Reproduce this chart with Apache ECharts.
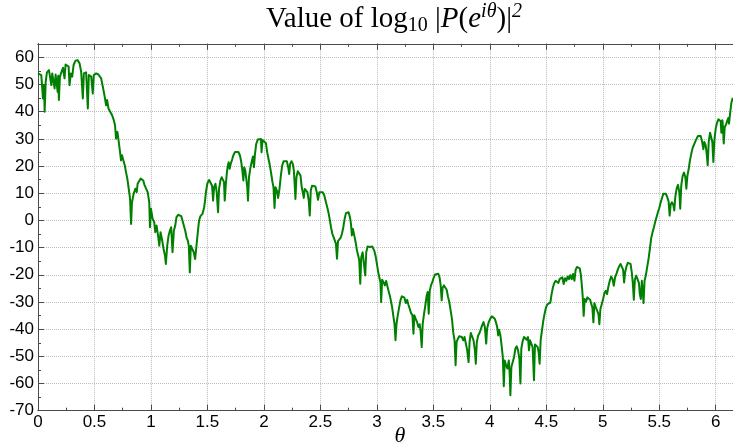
<!DOCTYPE html>
<html><head><meta charset="utf-8">
<script src="https://cdn.jsdelivr.net/npm/echarts@6/dist/echarts.min.js"></script>
<style>html,body{margin:0;padding:0;background:#fff;overflow:hidden;width:733px;height:443px}#c{width:752px;height:443px}</style>
</head><body><div id="c"></div>
<script>
// theta (radians) sample positions
const theta = [
0.000,0.029,0.044,0.053,0.059,0.068,0.079,0.097,0.109,0.118,
0.126,0.138,0.147,0.156,0.168,0.174,0.179,0.185,0.194,0.206,
0.221,0.235,0.244,0.259,0.271,0.279,0.291,0.303,0.315,0.332,
0.350,0.368,0.382,0.397,0.406,0.426,0.441,0.450,0.471,0.485,
0.494,0.515,0.535,0.559,0.574,0.588,0.603,0.612,0.624,0.638,
0.656,0.671,0.682,0.691,0.703,0.715,0.726,0.735,0.744,0.756,
0.768,0.779,0.791,0.803,0.815,0.824,0.832,0.847,0.862,0.874,
0.882,0.897,0.909,0.921,0.932,0.944,0.956,0.971,0.985,0.991,
1.000,1.015,1.029,1.038,1.050,1.065,1.074,1.085,1.097,1.112,
1.124,1.132,1.144,1.156,1.168,1.179,1.191,1.203,1.215,1.226,
1.241,1.256,1.268,1.279,1.291,1.303,1.315,1.326,1.335,1.344,
1.353,1.368,1.379,1.391,1.403,1.415,1.426,1.438,
1.456,1.471,1.479,1.488,1.500,1.515,1.529,1.541,1.550,1.559,
1.571,1.582,1.594,1.603,1.615,1.626,1.638,1.647,1.653,1.662,
1.671,1.679,1.688,1.697,1.706,1.718,1.729,1.744,1.759,1.774,
1.788,1.800,1.809,1.818,1.826,1.835,1.844,1.853,1.859,1.868,
1.879,1.891,1.903,1.912,1.921,1.932,1.947,1.962,1.974,1.979,
1.988,2.003,2.018,2.029,2.041,2.053,2.065,2.076,2.085,2.094,
2.103,2.115,2.126,2.138,2.150,2.162,2.174,2.188,2.203,2.215,
2.224,2.232,2.244,2.256,2.265,2.274,2.279,2.288,2.300,2.312,
2.324,2.335,2.344,2.353,2.362,2.374,2.385,2.397,2.406,2.415,
2.426,2.441,2.456,2.468,2.479,2.491,2.506,2.521,2.535,2.547,
2.559,2.571,2.582,2.594,2.606,2.618,2.629,2.638,2.647,2.656,
2.668,2.679,2.691,2.703,2.715,2.726,2.738,2.750,2.762,2.771,
2.779,2.788,2.800,2.812,2.824,2.835,2.844,2.853,2.862,2.874,
2.885,2.897,2.906,2.918,2.929,
2.941,2.959,2.976,2.988,3.000,3.012,3.024,3.032,3.038,3.047,
3.059,3.071,3.082,3.094,3.106,3.118,3.126,3.135,3.147,3.156,
3.165,3.174,3.185,3.197,3.209,3.221,3.232,3.244,3.256,3.268,
3.279,3.291,3.303,3.315,3.324,3.332,3.344,3.356,3.368,3.379,
3.388,3.397,3.406,3.418,3.429,3.441,3.450,3.459,3.468,3.479,
3.491,3.503,3.515,3.529,3.544,3.556,3.565,3.574,3.582,3.594,
3.606,3.618,3.629,3.641,3.653,3.665,3.676,3.688,3.697,3.706,
3.718,3.729,3.741,3.753,3.765,3.776,3.788,3.800,3.812,3.821,
3.832,3.844,3.856,3.868,3.876,3.885,3.897,3.909,3.921,3.932,
3.944,3.956,3.968,3.976,3.988,4.003,4.018,4.032,4.044,4.056,
4.065,4.074,4.082,4.094,4.106,4.115,4.124,4.132,4.144,4.156,
4.168,4.176,4.182,4.191,4.203,4.215,4.226,4.238,4.250,4.262,
4.271,4.279,4.291,4.303,4.315,4.326,4.338,4.347,4.356,4.368,
4.379,4.391,4.400,4.412,4.424,4.432,4.441,4.450,4.462,4.474,
4.485,4.497,4.509,4.521,
4.536,4.547,4.559,4.571,4.583,4.595,4.607,4.618,4.630,4.642,
4.654,4.666,4.678,4.689,4.701,4.713,4.725,4.737,4.749,4.760,
4.772,4.784,4.796,4.805,4.814,4.822,4.831,4.840,4.852,4.864,
4.876,4.888,4.899,4.908,4.917,4.926,4.938,4.950,4.962,4.970,
4.979,4.991,5.003,5.015,5.027,5.038,5.050,5.062,5.074,5.086,
5.098,5.109,5.121,5.133,5.145,5.157,5.169,5.180,5.189,5.198,
5.210,5.222,5.234,5.246,5.257,5.266,5.275,5.284,5.296,5.308,
5.320,5.328,5.337,5.346,5.355,5.361,5.370,5.382,5.393,5.405,
5.417,5.429,5.441,5.453,5.464,5.476,5.488,5.500,5.512,5.524,
5.536,5.547,5.559,5.571,5.583,5.592,5.601,5.612,5.624,5.633,
5.642,5.654,5.666,5.678,5.686,5.695,5.707,5.719,5.731,5.740,
5.749,5.760,5.772,5.784,5.796,5.808,5.820,5.831,5.843,5.855,
5.867,5.879,5.891,5.899,5.911,5.920,5.929,5.938,5.950,5.962,
5.970,5.979,5.988,6.000,6.012,6.024,6.036,6.044,6.050,6.059,
6.065,6.071,6.080,6.092,6.104,6.112,6.118,6.127,6.139,6.151
];

// log10 |P(e^{i theta})|^2 values
const logP = [
54.1,53.5,44.9,49.8,40.0,51.0,54.5,55.3,54.7,49.8,
54.1,54.1,48.6,53.7,53.5,47.3,53.2,44.3,52.9,52.9,
56.2,52.3,57.4,57.8,56.6,49.8,54.1,52.9,57.2,58.8,
59.0,57.8,54.7,44.9,54.1,54.5,41.2,53.5,52.9,46.7,
53.5,54.1,53.7,52.3,49.2,46.1,42.4,44.3,41.2,40.6,
38.7,36.9,35.0,30.1,32.6,28.9,25.2,22.1,24.0,22.1,
20.3,17.8,15.4,11.7,8.0,-1.3,6.7,9.8,11.7,10.4,
13.5,14.1,15.4,15.6,14.7,12.9,12.3,10.4,6.7,-2.5,
4.3,0.6,-0.6,-4.3,-1.9,-6.2,-9.3,-4.3,-6.8,-10.5,
-12.9,-16.0,-9.3,-5.6,-3.7,-2.5,-11.7,-3.7,-1.9,1.2,
2.1,2.4,1.6,0.0,-1.9,-3.7,-6.2,-7.4,-9.3,-19.1,
-9.3,-9.9,-11.7,-14.2,-9.3,-4.3,0.0,1.6,
2.4,4.9,7.3,10.8,13.7,14.9,14.4,12.8,7.3,12.2,
13.5,10.4,3.0,11.6,14.7,15.9,15.7,14.1,7.3,12.8,
17.1,19.8,21.4,19.0,20.8,22.3,23.9,25.2,25.5,25.2,
23.9,21.4,18.4,14.7,19.6,18.4,15.3,12.2,7.3,15.9,
19.0,21.4,23.5,19.6,24.5,28.2,29.8,30.2,30.0,25.1,
29.6,29.6,28.4,25.1,22.6,20.2,17.1,14.1,12.2,4.6,
12.2,11.0,8.3,11.6,16.5,20.2,21.8,22.0,21.8,19.6,
17.1,20.8,21.8,20.8,18.4,12.2,7.9,15.9,18.1,18.4,
16.5,12.2,10.4,8.3,11.6,11.3,10.4,7.3,1.8,11.0,
12.8,13.5,12.5,10.4,7.6,10.4,10.8,10.4,9.2,7.1,
5.1,3.0,0.6,-2.5,-4.9,-6.2,-6.8,-8.6,-14.1,-7.6,
-7.1,-6.4,-4.9,-2.5,0.6,2.7,3.4,3.0,1.2,-1.3,
-5.5,-3.1,-5.5,-8.0,-11.1,-12.9,-14.7,-23.3,-13.5,-11.7,
-12.3,-20.2,-11.7,-9.6,-9.2,
-9.8,-9.6,-11.0,-12.9,-15.9,-19.0,-21.4,-22.7,-30.0,-21.8,
-22.7,-23.9,-22.3,-24.3,-26.3,-28.2,-30.0,-31.9,-35.5,-38.0,
-44.1,-38.0,-34.9,-32.1,-29.4,-27.9,-27.6,-28.4,-30.4,-29.2,
-30.9,-32.5,-34.1,-34.9,-41.7,-34.9,-36.2,-37.4,-39.2,-38.2,
-41.1,-46.6,-38.0,-34.3,-31.3,-27.6,-26.3,-34.3,-26.0,-23.9,
-22.7,-21.1,-19.9,-19.2,-19.6,-21.1,-23.9,-29.4,-24.8,-23.9,
-24.3,-25.5,-27.9,-30.0,-33.1,-36.2,-41.1,-44.1,-53.3,-44.7,
-43.5,-42.6,-42.3,-42.9,-44.1,-42.9,-45.3,-47.8,-52.1,-44.7,
-41.4,-41.7,-44.1,-47.8,-52.7,-44.7,-42.3,-41.4,-40.7,-38.6,
-37.4,-39.2,-45.3,-39.8,-37.7,-36.2,-35.3,-35.3,-36.2,-37.7,
-39.2,-42.3,-40.2,-42.3,-46.6,-50.2,-61.0,-51.5,-53.3,-54.5,
-51.5,-56.4,-64.3,-53.9,-52.1,-50.2,-47.2,-46.3,-47.8,-50.9,
-60.0,-47.2,-44.4,-42.9,-43.1,-43.9,-42.9,-47.8,-44.1,-44.7,
-46.6,-58.8,-45.6,-45.1,-46.6,-48.4,-52.7,-44.1,-40.4,-36.8,
-34.3,-32.1,-30.9,-30.6,
-30.2,-27.1,-24.6,-23.0,-22.2,-21.6,-23.0,-21.6,-22.2,-20.9,
-23.4,-21.3,-22.2,-20.6,-21.6,-20.1,-21.6,-19.7,-22.2,-18.1,
-17.1,-16.9,-17.6,-19.7,-23.4,-27.7,-35.1,-28.9,-29.9,-28.3,
-27.9,-29.2,-30.8,-32.0,-37.5,-30.4,-32.0,-33.2,-34.5,-38.2,
-32.6,-30.8,-28.9,-26.7,-25.9,-27.1,-24.3,-22.2,-20.6,-21.6,
-24.0,-20.9,-19.7,-18.1,-16.9,-16.0,-16.6,-18.1,-22.8,-19.1,
-16.9,-15.6,-15.0,-16.0,-19.1,-23.0,-29.2,-21.8,-20.3,-20.9,
-23.0,-27.1,-28.9,-22.2,-26.5,-30.4,-22.2,-20.1,-17.2,-14.2,
-10.5,-6.5,-4.3,-2.5,-0.6,1.2,3.0,4.5,6.5,8.2,
9.8,10.4,9.8,8.6,7.0,1.8,5.8,6.7,5.8,3.7,
8.6,11.7,13.1,10.4,4.3,12.9,16.3,17.6,16.0,11.7,
16.3,18.8,22.1,24.6,26.7,27.9,29.1,30.1,31.1,31.6,
31.1,29.1,26.2,28.9,27.7,24.6,20.3,28.9,32.3,31.6,
28.9,21.5,29.5,33.8,36.0,37.2,37.7,36.5,32.3,36.9,
33.8,28.3,34.4,35.3,36.9,37.7,35.6,39.3,43.4,45.1
];

// axis ranges / steps
const xRange = [0, 2 * Math.PI];
const xStep = 0.5, xMinorStep = 0.25;
const yRange = [-70, 65];
const yStep = 10, yMinorStep = 5;

const chart = echarts.init(document.getElementById('c'), null, {renderer: 'canvas'});
const axisColor = '#4a4a4a';
const gridColor = '#bdbdbd';
const labelFont = {color: '#000', fontFamily: 'Liberation Sans, Arial, sans-serif', fontSize: 17};
const rect = {left: 38, top: 43.8, width: 709.7, height: 366.9};

function axisBase(step, major) {
  return {
    axisLine: {show: true, onZero: false, lineStyle: {color: axisColor, width: 1}},
    axisTick: {show: true, inside: true, length: major ? 6 : 3, lineStyle: {color: axisColor, width: 1}},
    axisLabel: {show: false},
    splitLine: {show: false},
    interval: step
  };
}
function xAx(grid, pos, step, major, labelled) {
  const a = Object.assign(axisBase(step, major), {type: 'value', gridIndex: grid, position: pos, min: xRange[0], max: xRange[1]});
  if (labelled) {
    a.axisLabel = Object.assign({show: true, margin: 3, showMaxLabel: false}, labelFont);
    a.splitLine = {show: true, lineStyle: {type: 'dotted', color: gridColor, width: 1}};
  }
  return a;
}
function yAx(grid, pos, step, major, labelled, visible) {
  const a = Object.assign(axisBase(step, major), {type: 'value', gridIndex: grid, position: pos, min: yRange[0], max: yRange[1], show: visible});
  if (labelled) {
    a.axisLabel = Object.assign({show: true, margin: 4, showMaxLabel: false}, labelFont);
    a.splitLine = {show: true, lineStyle: {type: 'dotted', color: gridColor, width: 1}};
  }
  return a;
}

chart.setOption({
  animation: false,
  backgroundColor: '#fff',
  grid: [rect, rect, rect, rect].map(r => Object.assign({containLabel: false}, r)),
  xAxis: [
    xAx(0, 'bottom', xStep, true, true),
    xAx(1, 'bottom', xMinorStep, false, false),
    xAx(2, 'top', xStep, true, false),
    xAx(3, 'top', xMinorStep, false, false)
  ],
  yAxis: [
    yAx(0, 'left', yStep, true, true, true),
    yAx(1, 'left', yMinorStep, false, false, true),
    yAx(2, 'right', yStep, true, false, true),
    yAx(3, 'right', yMinorStep, false, false, true)
  ],
  series: [{
    type: 'line',
    xAxisIndex: 0, yAxisIndex: 0,
    data: theta.map((t, i) => [t, logP[i]]),
    showSymbol: false, symbol: 'none', sampling: null,
    lineStyle: {color: '#008000', width: 2, join: 'round'},
    clip: true
  }],
  graphic: [
    {
      type: 'text', x: 394, y: 19, silent: true,
      style: {
        text: '{a|Value of log}{sub|10}{a| |}{i|P}{a|(}{i|e}{sup|iθ}{a|)|}{sup|2}',
        align: 'center', verticalAlign: 'middle',
        rich: {
          a: {fontFamily: 'Liberation Serif, serif', fontSize: 29, lineHeight: 34, fill: '#000'},
          i: {fontFamily: 'Liberation Serif, serif', fontStyle: 'italic', fontSize: 29, lineHeight: 34, fill: '#000'},
          sub: {fontFamily: 'Liberation Serif, serif', fontSize: 20, lineHeight: 16, verticalAlign: 'bottom', fill: '#000'},
          sup: {fontFamily: 'Liberation Serif, serif', fontStyle: 'italic', fontSize: 20, lineHeight: 16, verticalAlign: 'top', fill: '#000'}
        }
      }
    },
    {
      type: 'text', x: 400, y: 436, silent: true,
      style: {text: 'θ', font: 'italic 22px Liberation Serif', fill: '#000', align: 'center', verticalAlign: 'middle'}
    }
  ]
});
</script>
</body></html>
